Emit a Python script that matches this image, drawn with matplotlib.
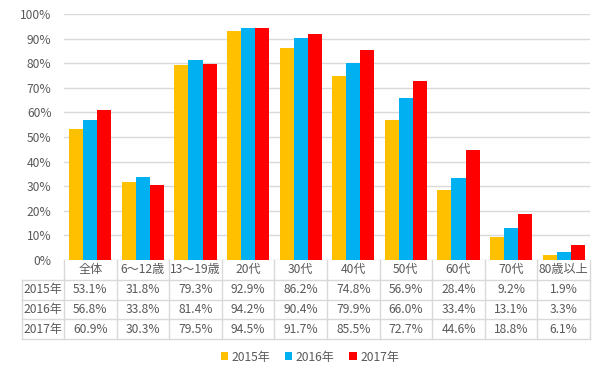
import matplotlib
matplotlib.use("Agg")
import matplotlib.pyplot as plt
import numpy as np

plt.rcParams['font.family'] = ['Noto Sans CJK JP', 'DejaVu Sans']

categories = ['全体', '6～12歳', '13～19歳', '20代', '30代', '40代', '50代', '60代', '70代', '80歳以上']
years = ['2015年', '2016年', '2017年']
v2015 = [53.1, 31.8, 79.3, 92.9, 86.2, 74.8, 56.9, 28.4, 9.2, 1.9]
v2016 = [56.8, 33.8, 81.4, 94.2, 90.4, 79.9, 66.0, 33.4, 13.1, 3.3]
v2017 = [60.9, 30.3, 79.5, 94.5, 91.7, 85.5, 72.7, 44.6, 18.8, 6.1]
colors = ['#FFC000', '#00B0F0', '#FF0000']

W, H = 605, 378
fig = plt.figure(figsize=(W / 100, H / 100), dpi=100)
txt = '#595959'
line = '#D9D9D9'
fs = 8.7

# main bar axes (pixel box 64..590 x 14..260)
ax = fig.add_axes([64 / W, 1 - 260 / H, (590 - 64) / W, (260 - 14) / H])
x = np.arange(len(categories))
bw = 0.8 / 3
for i, vals in enumerate([v2015, v2016, v2017]):
    ax.bar(x + (i - 1) * bw, vals, bw, color=colors[i], label=years[i], zorder=3)
ax.set_xlim(-0.5, len(categories) - 0.5)
ax.set_ylim(0, 100)
ax.set_yticks(np.arange(0, 101, 10))
ax.set_yticklabels(['%d%%' % t for t in range(0, 101, 10)], color=txt, fontsize=fs)
ax.tick_params(axis='y', length=0, pad=9)
ax.set_xticks([])
ax.grid(axis='y', color=line, linewidth=1, zorder=0)
for s in ax.spines.values():
    s.set_visible(False)

# data table below (pixel box 22..590 x 260..339)
cw = (590 - 64) / len(categories)
tax = fig.add_axes([22 / W, 1 - 339 / H, (590 - 22) / W, (339 - 260) / H])
left = -0.5 - (64 - 22) / cw
tax.set_xlim(left, len(categories) - 0.5)
tax.set_ylim(4, 0)
tax.axis('off')
lk = dict(color=line, linewidth=1, clip_on=False)
# verticals
for b in np.arange(-0.5, len(categories), 1.0):
    tax.plot([b, b], [0, 4], **lk)
tax.plot([left, left], [1, 4], **lk)
# horizontals
for r in [1, 2, 3, 4]:
    tax.plot([left, len(categories) - 0.5], [r, r], **lk)
for j, c in enumerate(categories):
    tax.text(j, 0.5, c, ha='center', va='center', color=txt, fontsize=fs)
for r, (yr, vals) in enumerate(zip(years, [v2015, v2016, v2017])):
    tax.text((left - 0.5) / 2, r + 1.5, yr, ha='center', va='center', color=txt, fontsize=fs)
    for j, v in enumerate(vals):
        tax.text(j, r + 1.5, '%.1f%%' % v, ha='center', va='center', color=txt, fontsize=fs)

# legend
handles, labels = ax.get_legend_handles_labels()
fig.legend(handles, labels, loc='center', bbox_to_anchor=(310 / W, 1 - 357 / H), ncol=3,
           frameon=False, fontsize=fs, labelcolor=txt, handlelength=0.6, handleheight=0.6,
           handletextpad=0.3, columnspacing=1.2)

fig.savefig('out.png', dpi=100)
